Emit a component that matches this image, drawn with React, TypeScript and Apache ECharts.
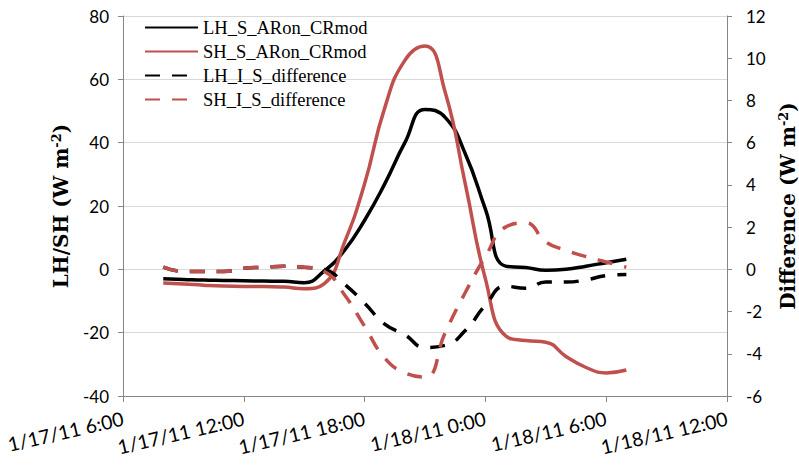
import React, { useEffect, useRef } from "react";
import * as echarts from "echarts";

// Hourly timestamps (1/17/11 8:00 .. 1/18/11 7:00)
const times: string[] = [
  "2011-01-17T08:00", "2011-01-17T09:00", "2011-01-17T10:00", "2011-01-17T11:00",
  "2011-01-17T12:00", "2011-01-17T13:00", "2011-01-17T14:00", "2011-01-17T15:00",
  "2011-01-17T16:00", "2011-01-17T17:00", "2011-01-17T18:00", "2011-01-17T19:00",
  "2011-01-17T20:00", "2011-01-17T21:00", "2011-01-17T22:00", "2011-01-17T23:00",
  "2011-01-18T00:00", "2011-01-18T01:00", "2011-01-18T02:00", "2011-01-18T03:00",
  "2011-01-18T04:00", "2011-01-18T05:00", "2011-01-18T06:00", "2011-01-18T07:00",
];

const lhS: number[] = [
  -3, -3.2, -3.4, -3.5, -3.6, -3.7, -3.8, -4.2,
  -0.5, 6, 15.5, 27, 40, 50.5, 48, 36.5,
  19, 1, 0.6, -0.3, 0, 1, 2.1, 3.2,
];
const shS: number[] = [
  -4.3, -4.6, -5, -5.3, -5.4, -5.4, -5.6, -6.1,
  -4.5, 8.5, 27, 51, 66, 70.5, 56, 27,
  -3, -21, -22.5, -23, -27.5, -31, -32.7, -31.8,
];
const lhDiff: number[] = [
  0.1, -0.1, -0.1, -0.1, 0.05, 0.1, 0.15, 0.1,
  0, -0.7, -1.6, -2.6, -3.1, -3.7, -3.6, -2.9,
  -1.7, -0.8, -0.9, -0.6, -0.6, -0.5, -0.3, -0.25,
];
const shDiff: number[] = [
  0.1, -0.1, -0.1, -0.1, 0.05, 0.1, 0.15, 0.1,
  -0.1, -1.2, -2.7, -4.2, -4.9, -5.1, -3.0, -1.1,
  0.6, 2.0, 2.2, 1.3, 0.9, 0.6, 0.35, 0.1,
];

const seriesNames = ["LH_S_ARon_CRmod", "SH_S_ARon_CRmod", "LH_I_S_difference", "SH_I_S_difference"];

const HOUR = 3600 * 1000;
const xMin = Date.UTC(2011, 0, 17, 6);
const xMax = Date.UTC(2011, 0, 18, 12);

function toMs(s: string): number {
  const [d, t] = s.split("T");
  const [y, mo, da] = d.split("-").map(Number);
  const [h, mi] = t.split(":").map(Number);
  return Date.UTC(y, mo - 1, da, h, mi);
}

function pairs(vals: number[]) {
  return vals.map((v, i) => [toMs(times[i]), v]);
}

export default function App() {
  const ref = useRef<HTMLDivElement>(null);
  useEffect(() => {
    if (!ref.current) return;
    const chart = echarts.init(ref.current, null, { renderer: "svg" });
    const red = "#C0504D";
    const axisGray = "#868686";
    const tickFont = "Lato";
    const serif = "Liberation Serif";
    const nameFont = "DejaVu Serif";
    const lw = 3.5;
    const dash = [15, 12];
    const nameStyle = {
      fontFamily: nameFont,
      fontWeight: "bold",
      fontSize: 20,
      color: "#000",
      lineHeight: 22,
      rich: {
        sup: { fontFamily: nameFont, fontWeight: "bold", fontSize: 13, verticalAlign: "top", lineHeight: 22, color: "#000" },
      },
    };
    chart.setOption({
      animation: false,
      backgroundColor: "#ffffff",
      grid: { left: 123, right: 72, top: 16, bottom: 69, containLabel: false, outerBoundsMode: "none" },
      legend: {
        orient: "vertical",
        left: 139,
        top: 13,
        itemWidth: 53,
        itemHeight: 14,
        itemGap: 5,
        data: seriesNames,
        itemStyle: { opacity: 0 },
        textStyle: { fontFamily: serif, fontSize: 18.5, color: "#000" },
      },
      xAxis: {
        type: "value",
        min: xMin,
        max: xMax,
        interval: 6 * HOUR,
        axisLine: { onZero: false, lineStyle: { color: axisGray, width: 1 } },
        axisTick: { show: true, length: 6, lineStyle: { color: axisGray } },
        splitLine: { show: false },
        axisLabel: {
          rotate: 13,
          margin: 22,
          fontFamily: tickFont,
          fontSize: 19.5,
          color: "#000",
          formatter: (v: number) => {
            const d = new Date(v);
            return `${d.getUTCMonth() + 1}/${d.getUTCDate()}/11 ${d.getUTCHours()}:00`;
          },
        },
      },
      yAxis: [
        {
          type: "value",
          min: -40,
          max: 80,
          interval: 20,
          position: "left",
          name: "LH/SH (W m{sup|-2})",
          nameLocation: "middle",
          nameRotate: 90,
          nameGap: 50,
          nameTextStyle: nameStyle,
          axisLine: { show: true, onZero: false, lineStyle: { color: axisGray } },
          axisTick: { show: true, length: 5, inside: false, lineStyle: { color: axisGray } },
          splitLine: { show: true, lineStyle: { color: "#D9D9D9", width: 1 } },
          axisLabel: { fontFamily: tickFont, fontSize: 17, color: "#000", margin: 14 },
        },
        {
          type: "value",
          min: -6,
          max: 12,
          interval: 2,
          position: "right",
          name: "Difference (W m{sup|-2})",
          nameLocation: "middle",
          nameRotate: 90,
          nameGap: 47,
          nameTextStyle: nameStyle,
          axisLine: { show: true, onZero: false, lineStyle: { color: axisGray } },
          axisTick: { show: true, length: 5, inside: false, lineStyle: { color: axisGray } },
          splitLine: { show: false },
          axisLabel: { fontFamily: tickFont, fontSize: 17, color: "#000", margin: 19 },
        },
      ],
      series: [
        {
          name: seriesNames[0],
          type: "line",
          yAxisIndex: 0,
          data: pairs(lhS),
          smooth: 0.5,
          showSymbol: false,
          symbol: "none",
          lineStyle: { color: "#000", width: lw },
          itemStyle: { color: "#000" },
        },
        {
          name: seriesNames[1],
          type: "line",
          yAxisIndex: 0,
          data: pairs(shS),
          smooth: 0.5,
          showSymbol: false,
          symbol: "none",
          lineStyle: { color: red, width: lw },
          itemStyle: { color: red },
        },
        {
          name: seriesNames[2],
          type: "line",
          yAxisIndex: 1,
          data: pairs(lhDiff),
          smooth: 0.5,
          showSymbol: false,
          symbol: "none",
          lineStyle: { color: "#000", width: lw, type: dash },
          itemStyle: { color: "#000" },
        },
        {
          name: seriesNames[3],
          type: "line",
          yAxisIndex: 1,
          data: pairs(shDiff),
          smooth: 0.5,
          showSymbol: false,
          symbol: "none",
          lineStyle: { color: red, width: lw, type: dash },
          itemStyle: { color: red },
        },
      ],
    });
    return () => chart.dispose();
  }, []);
  return (
    <div
      ref={ref}
      style={{ position: "fixed", left: 0, top: 0, width: 799, height: 465 }}
    />
  );
}
